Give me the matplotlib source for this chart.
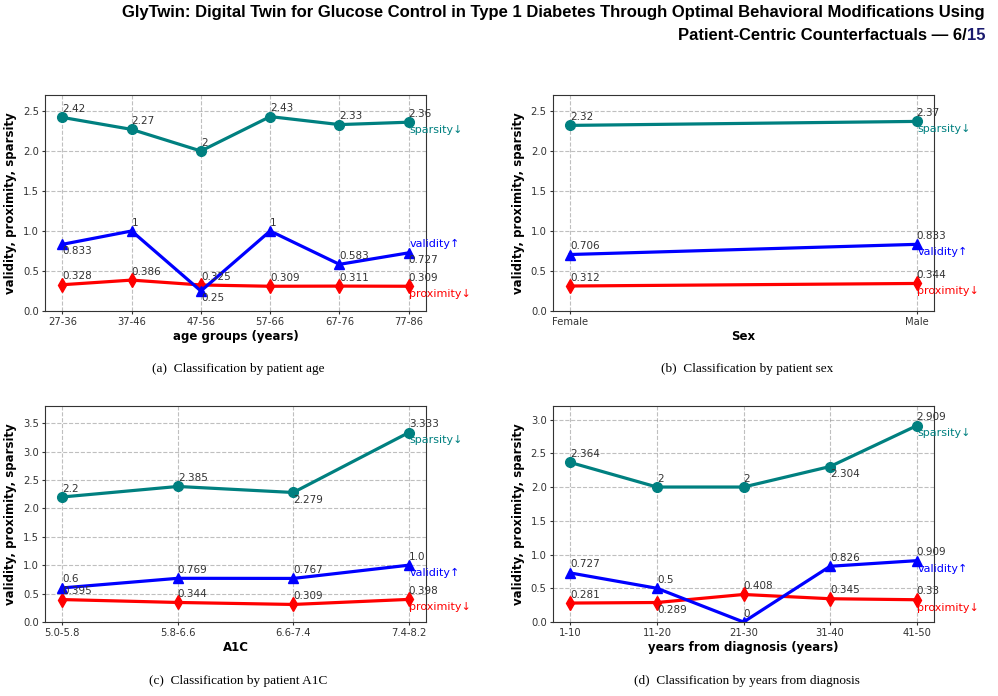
import matplotlib
matplotlib.use("Agg")
import matplotlib.pyplot as plt

# (a) age groups
age_groups = ["27-36", "37-46", "47-56", "57-66", "67-76", "77-86"]
age_sparsity = [2.42, 2.27, 2, 2.43, 2.33, 2.36]
age_validity = [0.833, 1, 0.25, 1, 0.583, 0.727]
age_proximity = [0.328, 0.386, 0.325, 0.309, 0.311, 0.309]

# (b) sex
sexes = ["Female", "Male"]
sex_sparsity = [2.32, 2.37]
sex_validity = [0.706, 0.833]
sex_proximity = [0.312, 0.344]

# (c) A1C
a1c_groups = ["5.0-5.8", "5.8-6.6", "6.6-7.4", "7.4-8.2"]
a1c_sparsity = [2.2, 2.385, 2.279, 3.333]
a1c_validity = [0.6, 0.769, 0.767, 1.0]
a1c_proximity = [0.395, 0.344, 0.309, 0.398]

# (d) years from diagnosis
diag_groups = ["1-10", "11-20", "21-30", "31-40", "41-50"]
diag_sparsity = [2.364, 2, 2, 2.304, 2.909]
diag_validity = [0.727, 0.5, 0, 0.826, 0.909]
diag_proximity = [0.281, 0.289, 0.408, 0.345, 0.33]

# where each value label goes: 1 = above the point, 0 = below
panels = [
    dict(cats=age_groups, sp=age_sparsity, va=age_validity, pr=age_proximity,
         xlabel="age groups (years)", ymax=2.7,
         pos_sp=[1, 1, 1, 1, 1, 1], pos_va=[0, 1, 0, 1, 1, 0], pos_pr=[1, 1, 1, 1, 1, 1],
         va_name_above=True, rect=[0.0451, 0.5532, 0.3818, 0.3103],
         caption="(a)  Classification by patient age", cap_xy=(0.2385, 0.4698)),
    dict(cats=sexes, sp=sex_sparsity, va=sex_validity, pr=sex_proximity,
         xlabel="Sex", ymax=2.7,
         pos_sp=[1, 1], pos_va=[1, 1], pos_pr=[1, 1],
         va_name_above=False, rect=[0.5541, 0.5532, 0.3818, 0.3103],
         caption="(b)  Classification by patient sex", cap_xy=(0.7485, 0.4698)),
    dict(cats=a1c_groups, sp=a1c_sparsity, va=a1c_validity, pr=a1c_proximity,
         xlabel="A1C", ymax=3.8,
         pos_sp=[1, 1, 0, 1], pos_va=[1, 1, 1, 1], pos_pr=[1, 1, 1, 1],
         va_name_above=False, rect=[0.0451, 0.1063, 0.3818, 0.3103],
         caption="(c)  Classification by patient A1C", cap_xy=(0.2385, 0.0216)),
    dict(cats=diag_groups, sp=diag_sparsity, va=diag_validity, pr=diag_proximity,
         xlabel="years from diagnosis (years)", ymax=3.2,
         pos_sp=[1, 1, 1, 0, 1], pos_va=[1, 1, 1, 1, 1], pos_pr=[1, 0, 1, 1, 1],
         va_name_above=False, rect=[0.5541, 0.1063, 0.3818, 0.3103],
         caption="(d)  Classification by years from diagnosis", cap_xy=(0.7485, 0.0216)),
]

TEAL = "#008080"
fig = plt.figure(figsize=(9.98, 6.96), dpi=100)


def put_values(ax, x, vals, pos):
    for xi, v, p in zip(x, vals, pos):
        if p:
            ax.annotate(str(v), (xi, v), xytext=(0, 2.5), textcoords="offset points",
                        ha="left", va="bottom", fontsize=7.5, color="#333333")
        else:
            ax.annotate(str(v), (xi, v), xytext=(0, -1.5), textcoords="offset points",
                        ha="left", va="top", fontsize=7.5, color="#333333")


for p in panels:
    ax = fig.add_axes(p["rect"])
    x = list(range(len(p["cats"])))
    ax.plot(x, p["sp"], color=TEAL, marker="o", lw=2.3, ms=7)
    ax.plot(x, p["pr"], color="red", marker="d", lw=2.3, ms=7)
    ax.plot(x, p["va"], color="blue", marker="^", lw=2.3, ms=7)
    put_values(ax, x, p["sp"], p["pos_sp"])
    put_values(ax, x, p["va"], p["pos_va"])
    put_values(ax, x, p["pr"], p["pos_pr"])

    last = x[-1]
    ax.annotate("sparsity↓", (last, p["sp"][-1]), xytext=(0.5, -2), textcoords="offset points",
                ha="left", va="top", fontsize=8, color=TEAL, annotation_clip=False)
    if p["va_name_above"]:
        ax.annotate("validity↑", (last, p["va"][-1]), xytext=(0.5, 2.5), textcoords="offset points",
                    ha="left", va="bottom", fontsize=8, color="blue", annotation_clip=False)
    else:
        ax.annotate("validity↑", (last, p["va"][-1]), xytext=(0.5, -2), textcoords="offset points",
                    ha="left", va="top", fontsize=8, color="blue", annotation_clip=False)
    ax.annotate("proximity↓", (last, p["pr"][-1]), xytext=(0.5, -2), textcoords="offset points",
                ha="left", va="top", fontsize=8, color="red", annotation_clip=False)

    ax.set_xticks(x)
    ax.set_xticklabels(p["cats"])
    ax.set_ylim(0, p["ymax"])
    ax.tick_params(labelsize=7.2, colors="#333333", length=2.5, pad=2)
    ax.grid(True, linestyle="--", color="gray", alpha=0.5, lw=0.8)
    for s in ax.spines.values():
        s.set_color("#333333")
    ax.set_xlabel(p["xlabel"], fontsize=8.5, fontweight="bold", labelpad=2)
    ax.set_ylabel("validity, proximity, sparsity", fontsize=8.5, fontweight="bold", labelpad=4)

    fig.text(p["cap_xy"][0], p["cap_xy"][1], p["caption"], ha="center", va="center",
             fontsize=9.5, family="Liberation Serif")

fig.text(0.987, 0.993, "GlyTwin: Digital Twin for Glucose Control in Type 1 Diabetes Through Optimal Behavioral Modifications Using",
         ha="right", va="top", fontsize=12, fontweight="bold", family="Liberation Sans")
t15 = fig.text(0.987, 0.960, "15", ha="right", va="top", fontsize=12, fontweight="bold",
               family="Liberation Sans", color="#1a1a6e")
fig.canvas.draw()
bb = t15.get_window_extent()
fig.text(bb.x0 / fig.bbox.width, 0.960, "Patient-Centric Counterfactuals — 6/", ha="right", va="top",
         fontsize=12, fontweight="bold", family="Liberation Sans")

fig.savefig("out.png", dpi=100)
